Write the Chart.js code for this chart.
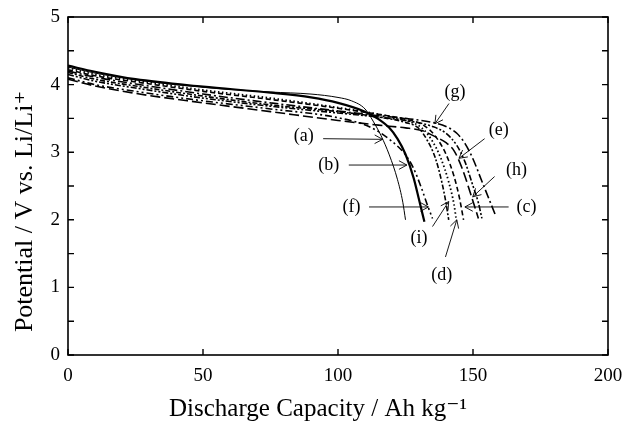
<!DOCTYPE html>
<html>
<head>
<meta charset="utf-8">
<script src="https://cdn.jsdelivr.net/npm/chart.js@4"></script>
<style>
html,body{margin:0;padding:0;background:#fff;}
#wrap{width:623px;height:423px;}
</style>
</head>
<body>
<div id="wrap"><canvas id="c" width="623" height="423"></canvas></div>
<script>
// ---- data (discharge capacity / Ah kg-1 , potential / V) ----
const capA = [0, 10, 25, 50, 75, 90, 100, 105, 110, 113, 116, 119, 122, 124, 125];
const volA = [4.26, 4.17, 4.07, 3.96, 3.89, 3.86, 3.81, 3.76, 3.64, 3.46, 3.24, 2.96, 2.6, 2.26, 2.0];
const capB = [0, 10, 25, 50, 75, 90, 100, 110, 115, 119, 122, 125, 128, 130, 132];
const volB = [4.28, 4.19, 4.08, 3.97, 3.88, 3.81, 3.73, 3.6, 3.49, 3.36, 3.2, 2.97, 2.62, 2.3, 1.97];
const capC = [0, 10, 25, 50, 75, 100, 115, 125, 132, 136, 140, 143, 145, 146.5];
const volC = [4.22, 4.13, 4.04, 3.9, 3.78, 3.65, 3.56, 3.49, 3.39, 3.24, 2.97, 2.64, 2.32, 2.0];
const capD = [0, 10, 25, 50, 75, 100, 115, 125, 131, 135, 138, 141, 143, 143.8];
const volD = [4.25, 4.15, 4.06, 3.92, 3.8, 3.66, 3.56, 3.47, 3.36, 3.16, 2.92, 2.56, 2.22, 2.0];
const capE = [0, 10, 25, 50, 75, 100, 115, 125, 131, 136, 140, 143, 146, 149, 152];
const volE = [4.08, 3.98, 3.87, 3.73, 3.6, 3.47, 3.4, 3.36, 3.32, 3.23, 3.14, 3.02, 2.76, 2.4, 2.02];
const capF = [0, 10, 25, 50, 75, 100, 112, 120, 125, 128, 131, 133, 135];
const volF = [4.1, 4.0, 3.9, 3.76, 3.64, 3.51, 3.37, 3.16, 2.96, 2.76, 2.46, 2.23, 2.02];
const capG = [0, 10, 25, 50, 75, 100, 115, 125, 135, 140, 144, 147, 150, 153, 156, 158.5];
const volG = [4.2, 4.11, 4.01, 3.86, 3.73, 3.61, 3.54, 3.5, 3.44, 3.38, 3.28, 3.13, 2.9, 2.6, 2.3, 2.05];
const capH = [0, 10, 25, 50, 75, 100, 115, 125, 135, 140, 144, 147, 150, 152, 153.3];
const volH = [4.15, 4.05, 3.95, 3.8, 3.68, 3.58, 3.52, 3.47, 3.38, 3.28, 3.1, 2.86, 2.5, 2.25, 2.02];
const capI = [0, 10, 25, 50, 75, 100, 115, 125, 130, 133, 136, 138.5, 140, 141];
const volI = [4.18, 4.08, 3.98, 3.83, 3.7, 3.6, 3.52, 3.44, 3.35, 3.18, 2.92, 2.55, 2.25, 2.0];

const seriesNames = ['(a)', '(b)', '(c)', '(d)', '(e)', '(f)', '(g)', '(h)', '(i)'];
const xTickValues = [0, 50, 100, 150, 200];
const yTickLabels = ['0', '1', '2', '3', '4', '5'];
const xTitle = 'Discharge Capacity / Ah kg⁻¹';
const yTitle = 'Potential / V vs. Li/Li⁺';

// label / arrow annotations in data units
const labelNames = ['(a)', '(b)', '(f)', '(i)', '(d)', '(c)', '(h)', '(e)', '(g)'];
const labelX = [87.3, 96.6, 105, 130, 138.4, 169.8, 166.1, 159.5, 143.3];
const labelY = [3.23, 2.81, 2.18, 1.72, 1.18, 2.19, 2.73, 3.33, 3.88];
const arrowFromX = [94.5, 104, 111.5, 135, 139.8, 163.2, 158, 154.3, 141.1];
const arrowFromY = [3.2, 2.81, 2.19, 1.9, 1.45, 2.19, 2.64, 3.2, 3.72];
const arrowToX = [116.5, 125.5, 133.5, 141, 144, 147, 149.9, 144.8, 135.9];
const arrowToY = [3.19, 2.81, 2.19, 2.27, 2.0, 2.19, 2.34, 2.91, 3.42];

// ---- styles ----
const styles = [
  {w: 1.0, dash: []},
  {w: 2.2, dash: []},
  {w: 1.6, dash: [5, 3]},
  {w: 1.8, dash: [1.5, 2.5]},
  {w: 1.6, dash: [10, 4]},
  {w: 1.6, dash: [7, 3, 2, 3, 2, 3]},
  {w: 1.6, dash: [9, 3, 2, 3]},
  {w: 1.6, dash: [6, 2, 2, 2, 2, 2]},
  {w: 1.6, dash: [5, 2, 2, 2]}
];

const caps = [capA, capB, capC, capD, capE, capF, capG, capH, capI];
const vols = [volA, volB, volC, volD, volE, volF, volG, volH, volI];

const datasets = caps.map((cx, k) => ({
  label: seriesNames[k],
  data: cx.map((x, j) => ({x: x, y: vols[k][j]})),
  showLine: true,
  borderColor: '#000',
  borderWidth: styles[k].w,
  borderDash: styles[k].dash,
  pointRadius: 0,
  fill: false,
  cubicInterpolationMode: 'monotone'
}));

const SERIF = '"Liberation Serif", "DejaVu Serif", serif';

const framePlugin = {
  id: 'frame',
  afterDatasetsDraw(chart) {
    const {ctx, chartArea: ca, scales} = chart;
    const xs = scales.x, ys = scales.y;
    ctx.save();
    ctx.setLineDash([]);
    ctx.strokeStyle = '#000';
    ctx.lineWidth = 1.6;
    ctx.strokeRect(ca.left, ca.top, ca.right - ca.left, ca.bottom - ca.top);
    ctx.lineWidth = 1.4;
    const tl = 6;
    ys.ticks.forEach(t => {
      const py = ys.getPixelForValue(t.value);
      ctx.beginPath();
      ctx.moveTo(ca.left, py); ctx.lineTo(ca.left + tl, py);
      ctx.moveTo(ca.right, py); ctx.lineTo(ca.right - tl, py);
      ctx.stroke();
    });
    xs.ticks.forEach(t => {
      const px = xs.getPixelForValue(t.value);
      ctx.beginPath();
      ctx.moveTo(px, ca.top); ctx.lineTo(px, ca.top + tl);
      ctx.moveTo(px, ca.bottom); ctx.lineTo(px, ca.bottom - tl);
      ctx.stroke();
    });
    // annotations
    ctx.lineWidth = 0.9;
    ctx.fillStyle = '#000';
    ctx.font = '18px ' + SERIF;
    ctx.textAlign = 'center';
    ctx.textBaseline = 'middle';
    labelNames.forEach((name, k) => {
      ctx.fillText(name, xs.getPixelForValue(labelX[k]), ys.getPixelForValue(labelY[k]));
      const x0 = xs.getPixelForValue(arrowFromX[k]), y0 = ys.getPixelForValue(arrowFromY[k]);
      const x1 = xs.getPixelForValue(arrowToX[k]), y1 = ys.getPixelForValue(arrowToY[k]);
      ctx.beginPath();
      ctx.moveTo(x0, y0); ctx.lineTo(x1, y1);
      const ang = Math.atan2(y1 - y0, x1 - x0);
      const hl = 9, ha = 0.5;
      ctx.moveTo(x1 - hl * Math.cos(ang - ha), y1 - hl * Math.sin(ang - ha));
      ctx.lineTo(x1, y1);
      ctx.lineTo(x1 - hl * Math.cos(ang + ha), y1 - hl * Math.sin(ang + ha));
      ctx.stroke();
    });
    // axis titles
    ctx.textBaseline = 'alphabetic';
    ctx.font = '25px ' + SERIF;
    ctx.fillText(xTitle, 318, 416);
    ctx.save();
    ctx.translate(32, chart.height / 2);
    ctx.rotate(-Math.PI / 2);
    ctx.font = '26px ' + SERIF;
    ctx.fillText(yTitle, 0, 0);
    ctx.restore();
    ctx.restore();
  }
};

new Chart(document.getElementById('c'), {
  type: 'scatter',
  data: {datasets},
  options: {
    responsive: false,
    animation: false,
    devicePixelRatio: 1,
    layout: {padding: {left: 0, top: 17, right: 15, bottom: 0}},
    plugins: {legend: {display: false}, tooltip: {enabled: false}},
    scales: {
      x: {
        type: 'linear', min: 0, max: 200,
        afterBuildTicks: (s) => { s.ticks = xTickValues.map(v => ({value: v})); },
        afterFit: (s) => { s.height = 68; s.paddingRight = 0; s.paddingLeft = 0; },
        grid: {display: false, drawTicks: false},
        border: {display: false},
        ticks: {color: '#000', font: {family: SERIF, size: 19}, padding: 10, maxRotation: 0},
        title: {display: false}
      },
      y: {
        type: 'linear', min: 0, max: 5,
        ticks: {stepSize: 0.5, autoSkip: false, color: '#000', font: {family: SERIF, size: 19}, padding: 8,
                callback: (v) => Number.isInteger(v) ? yTickLabels[v] : ''},
        afterFit: (s) => { s.width = 68; s.paddingTop = 0; s.paddingBottom = 0; },
        grid: {display: false, drawTicks: false},
        border: {display: false},
        title: {display: false}
      }
    }
  },
  plugins: [framePlugin]
});
</script>
</body>
</html>
